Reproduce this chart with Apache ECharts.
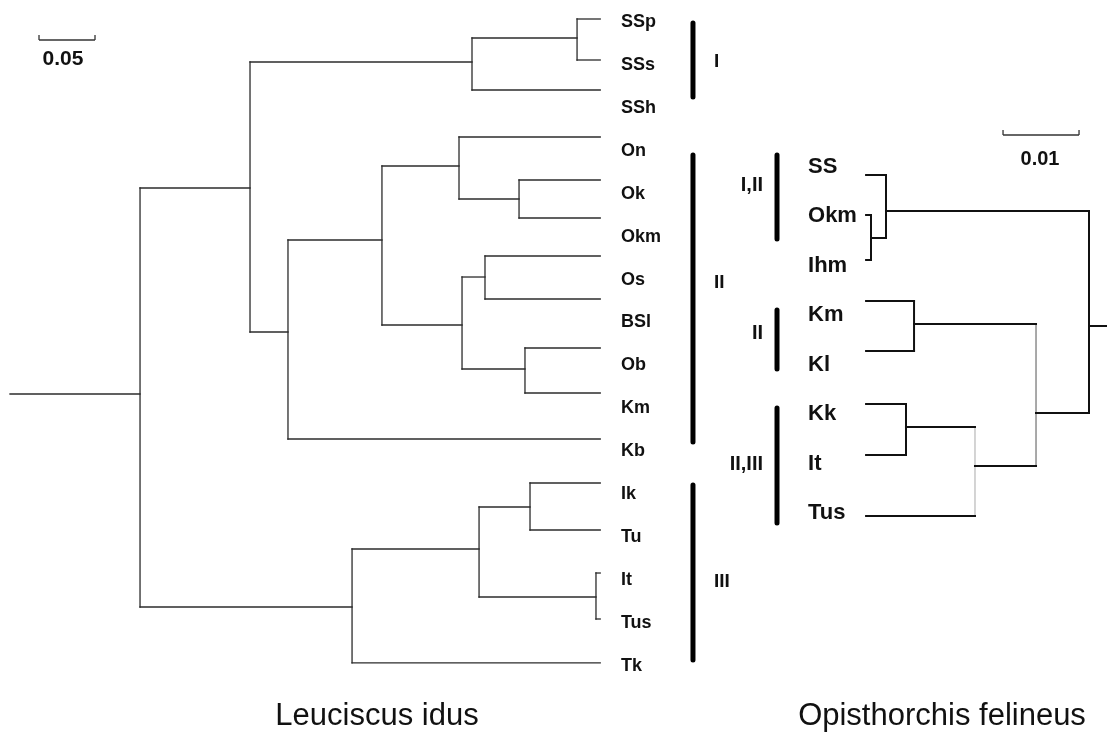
<!DOCTYPE html>
<html><head><meta charset="utf-8">
<script src="https://cdn.jsdelivr.net/npm/echarts@6/dist/echarts.min.js"></script>
<style>html,body{margin:0;padding:0;background:#fff}#c{width:1107px;height:733px}</style>
</head><body><div id="c"></div>
<script>
// ---------- Left tree: Leuciscus idus (depth = distance from root stem start) ----------
const leftLeaves = ['SSp','SSs','SSh','On','Ok','Okm','Os','BSl','Ob','Km','Kb','Ik','Tu','It','Tus','Tk'];
const leftLeafRows = [0, 0.955, 1.654, 2.749, 3.750, 4.635, 5.521, 6.522, 7.664, 8.712, 9.783, 10.808, 11.903, 12.905, 13.976, 15.0];
const leftLeafDepth = 0.527;
const leftNodeNames = ['n1','n2','n3','n4','n5','n6','n7','n8','n9','n10','n11','n12','n13','n14','root'];
const leftNodeKids = [['SSp','SSs'],['n1','SSh'],['Ok','Okm'],['On','n3'],['Os','BSl'],['Ob','Km'],['n5','n6'],['n4','n7'],['n8','Kb'],['n2','n9'],['Ik','Tu'],['It','Tus'],['n11','n12'],['n13','Tk'],['n10','n14']];
const leftNodeDepth = [0.5063,0.4125,0.4545,0.4009,0.4241,0.4598,0.4036,0.3321,0.2482,0.2143,0.4643,0.5232,0.4188,0.3054,0.1161];
const leftNodeRows = [0.443,1.002,4.193,3.424,6.010,8.153,7.128,5.148,7.291,3.937,11.367,13.464,12.346,13.697,8.735];
const leftGroups = ['I','II','III'];
const leftGroupFrom = [0.093, 3.168, 10.855];
const leftGroupTo = [1.817, 9.853, 14.93];
const leftGroupLabelRows = [1.0, 6.15, 13.11];
const leftScale = 0.05;
const leftTitle = 'Leuciscus idus';

// ---------- Right tree: Opisthorchis felineus ----------
const rightLeaves = ['SS','Okm','Ihm','Km','Kl','Kk','It','Tus'];
const rightLeafRows = [0.162, 0.971, 1.881, 2.711, 3.722, 4.795, 5.826, 7.06];
const rightLeafDepth = 0.0317;
const rightNodeNames = ['a','b','c','d','e','f','root'];
const rightNodeKids = [['Okm','Ihm'],['SS','a'],['Km','Kl'],['Kk','It'],['d','Tus'],['c','e'],['b','f']];
const rightNodeDepth = [0.03105,0.02908,0.02539,0.02645,0.01737,0.00934,0.00237];
const rightNodeRows = [1.436,0.890,3.176,5.26,6.049,4.977,3.217];
const rightGroups = ['I,II','II','II,III'];
const rightGroupFrom = [-0.243, 2.893, 4.876];
const rightGroupTo = [1.457, 4.087, 7.202];
const rightGroupLabelRows = [0.364, 3.358, 6.009];
const rightScale = 0.01;
const rightTitle = 'Opisthorchis felineus';

// ---------- layout (positions in axis units) ----------
const L = {labelDepth:0.5455, labelShift:3, barDepth:0.6098, groupLabelDepth:0.6286,
           scaleStart:0.0259, scaleRow:0.489, tick:0.116, scaleLabelDepth:0.0473, scaleLabelRow:0.93};
const R = {labelDepth:0.03934, barDepth:0.04342, groupLabelDepth:0.04526,
           scaleStart:0.00368, scaleRow:-0.647, tick:0.1, scaleLabelDepth:0.00882, scaleLabelRow:-0.142};
const FONT = '"Liberation Sans", Arial, sans-serif';

function buildTree(leaves, leafRows, leafDepth, names, kids, depths, rows){
  const pos = {};
  leaves.forEach((n,i)=>pos[n]={d:leafDepth, r:leafRows[i]});
  names.forEach((n,i)=>pos[n]={d:depths[i], r:rows[i]});
  const segs = [];
  names.forEach((n,i)=>{
    const [a,b] = kids[i];
    segs.push({value:[depths[i], pos[a].r, depths[i], pos[b].r], kind:'v', node:n});
    [a,b].forEach(c=>segs.push({value:[depths[i], pos[c].r, pos[c].d, pos[c].r], kind:'h', node:n}));
  });
  const ri = names.indexOf('root');
  segs.push({value:[0, rows[ri], depths[ri], rows[ri]], kind:'h', node:'stub'});
  return segs;
}

function lineSeries(idx, data){
  return {
    type:'custom', coordinateSystem:'cartesian2d', xAxisIndex:idx, yAxisIndex:idx,
    silent:true, animation:false, clip:false,
    data: data.map(s=>s.value),
    renderItem:(params, api)=>{
      const s = data[params.dataIndex];
      const p1 = api.coord([api.value(0), api.value(1)]);
      const p2 = api.coord([api.value(2), api.value(3)]);
      return {type:'line', shape:{x1:p1[0], y1:p1[1], x2:p2[0], y2:p2[1]},
              style:{stroke:s.color, lineWidth:s.width, lineCap:s.cap || 'square', fill:null}};
    }
  };
}
function textSeries(idx, items){
  return {
    type:'custom', coordinateSystem:'cartesian2d', xAxisIndex:idx, yAxisIndex:idx,
    silent:true, animation:false, clip:false,
    data: items.map(t=>[t.d, t.r]),
    renderItem:(params, api)=>{
      const t = items[params.dataIndex];
      const p = api.coord([api.value(0), api.value(1)]);
      return {type:'text', x:p[0], y:p[1] + (t.dy||0),
        style:{text:t.text, fill:'#111', font:t.font, align:t.align, verticalAlign:'middle',
               textAlign:t.align, textVerticalAlign:'middle'}};
    }
  };
}

// left tree segments
const leftSegs = buildTree(leftLeaves, leftLeafRows, leftLeafDepth, leftNodeNames, leftNodeKids, leftNodeDepth, leftNodeRows)
  .map(s=>Object.assign(s,{color:'#2b2b2b', width:1.3}));
const rightGrey = {e:'#b8b8b8', f:'#707070'};
const rightSegs = buildTree(rightLeaves, rightLeafRows, rightLeafDepth, rightNodeNames, rightNodeKids, rightNodeDepth, rightNodeRows)
  .map(s=>{
    if (s.kind==='v' && rightGrey[s.node]) return Object.assign(s,{color:rightGrey[s.node], width:1.2});
    return Object.assign(s,{color:'#111', width:2});
  });

// group bars
const leftBars = leftGroups.map((g,i)=>({value:[L.barDepth, leftGroupFrom[i], L.barDepth, leftGroupTo[i]], color:'#000', width:5, cap:'round'}));
const rightBars = rightGroups.map((g,i)=>({value:[R.barDepth, rightGroupFrom[i], R.barDepth, rightGroupTo[i]], color:'#000', width:5, cap:'round'}));

// scale bars
const leftScaleSegs = [
  {value:[L.scaleStart, L.scaleRow, L.scaleStart+leftScale, L.scaleRow]},
  {value:[L.scaleStart, L.scaleRow, L.scaleStart, L.scaleRow-L.tick]},
  {value:[L.scaleStart+leftScale, L.scaleRow, L.scaleStart+leftScale, L.scaleRow-L.tick]}
].map(s=>Object.assign(s,{color:'#333', width:1.3, cap:'butt'}));
const rightScaleSegs = [
  {value:[R.scaleStart, R.scaleRow, R.scaleStart+rightScale, R.scaleRow]},
  {value:[R.scaleStart, R.scaleRow, R.scaleStart, R.scaleRow-R.tick]},
  {value:[R.scaleStart+rightScale, R.scaleRow, R.scaleStart+rightScale, R.scaleRow-R.tick]}
].map(s=>Object.assign(s,{color:'#333', width:1.3, cap:'butt'}));

// texts
const leftTexts = leftLeaves.map((n,i)=>({text:n, d:L.labelDepth, r:i, dy:L.labelShift, align:'left', font:'bold 18px '+FONT}))
  .concat(leftGroups.map((g,i)=>({text:g, d:L.groupLabelDepth, r:leftGroupLabelRows[i], align:'left', font:'bold 19px '+FONT})))
  .concat([{text:String(leftScale), d:L.scaleLabelDepth, r:L.scaleLabelRow, align:'center', font:'bold 21px '+FONT}]);
const rightTexts = rightLeaves.map((n,i)=>({text:n, d:R.labelDepth, r:i, align:'left', font:'bold 22px '+FONT}))
  .concat(rightGroups.map((g,i)=>({text:g, d:R.groupLabelDepth, r:rightGroupLabelRows[i], align:'right', font:'bold 20px '+FONT})))
  .concat([{text:String(rightScale), d:R.scaleLabelDepth, r:R.scaleLabelRow, align:'center', font:'bold 20px '+FONT}]);

const chart = echarts.init(document.getElementById('c'), null, {renderer:'canvas'});
chart.setOption({
  backgroundColor:'#fff',
  animation:false,
  grid:[
    {left:10, top:19, width:1064, height:15*42.93},
    {left:727, top:167-49.43, width:380, height:9*49.43}
  ],
  xAxis:[
    {type:'value', gridIndex:0, min:0, max:0.95, show:false},
    {type:'value', gridIndex:1, min:0, max:0.05, inverse:true, show:false}
  ],
  yAxis:[
    {type:'value', gridIndex:0, min:0, max:15, inverse:true, show:false},
    {type:'value', gridIndex:1, min:-1, max:8, inverse:true, show:false}
  ],
  graphic:[
    {type:'text', x:377, y:716, style:{text:leftTitle, fill:'#111', font:'31px '+FONT, align:'center', verticalAlign:'middle'}},
    {type:'text', x:942, y:716, style:{text:rightTitle, fill:'#111', font:'31px '+FONT, align:'center', verticalAlign:'middle'}}
  ],
  series:[
    lineSeries(0, leftSegs),
    lineSeries(0, leftBars),
    lineSeries(0, leftScaleSegs),
    textSeries(0, leftTexts),
    lineSeries(1, rightSegs),
    lineSeries(1, rightBars),
    lineSeries(1, rightScaleSegs),
    textSeries(1, rightTexts)
  ]
});
</script></body></html>
